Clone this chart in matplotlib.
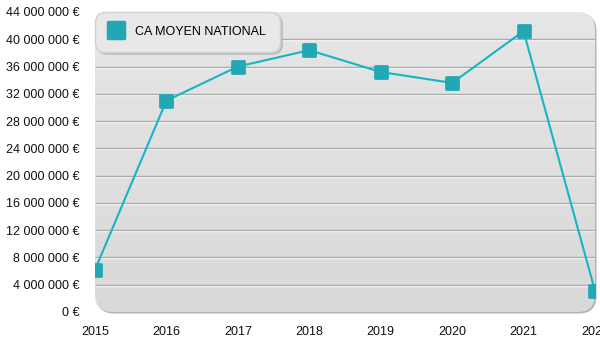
import matplotlib.pyplot as plt
import numpy as np
from matplotlib.patches import FancyBboxPatch
from matplotlib.lines import Line2D
from matplotlib.markers import MarkerStyle
import matplotlib.transforms as mtransforms

plt.rcParams['font.family'] = ['Liberation Sans', 'DejaVu Sans']

# Chiffre d'affaires moyen national par année
years = [2015, 2016, 2017, 2018, 2019, 2020, 2021, 2022]
ca_moyen = [6.2e6, 31.0e6, 36.0e6, 38.4e6, 35.2e6, 33.6e6, 41.2e6, 3.1e6]
series_label = 'CA MOYEN NATIONAL'
y_ticks = list(range(0, 44000001, 4000000))

line_color = '#16b5c6'
marker_face = '#22a8b4'

fig = plt.figure(figsize=(6, 3.5), dpi=100)
ax = fig.add_axes([95 / 600, 38 / 350, 500 / 600, 300 / 350])
ax.patch.set_visible(False)

# fond arrondi avec dégradé gris
shadow = FancyBboxPatch((0.003, -0.005), 1.0, 1.0,
                        boxstyle='round,pad=0,rounding_size=0.035',
                        transform=ax.transAxes, facecolor='#b5b5b5',
                        edgecolor='none', clip_on=False, zorder=0,
                        mutation_aspect=500 / 300)
ax.add_patch(shadow)
bg = FancyBboxPatch((0, 0), 1.0, 1.0,
                    boxstyle='round,pad=0,rounding_size=0.035',
                    transform=ax.transAxes, facecolor='none',
                    edgecolor='none', clip_on=False, zorder=0.5,
                    mutation_aspect=500 / 300)
ax.add_patch(bg)
grad = np.linspace(0, 1, 256).reshape(-1, 1)
img = ax.imshow(grad, extent=[0, 1, 0, 1], transform=ax.transAxes,
                cmap=plt.matplotlib.colors.LinearSegmentedColormap.from_list(
                    'bg', ['#d9d9d9', '#e6e6e6']),
                origin='lower', aspect='auto', zorder=0.6)
img.set_clip_path(bg)
ax.set_xlim(2015, 2022)
ax.set_ylim(0, 44e6)

# lignes de grille en relief
white_off = mtransforms.offset_copy(ax.transData, fig=fig, x=0, y=-1, units='dots')
for v in y_ticks[1:-1]:
    ax.plot([2015, 2022], [v, v], color='#ffffff', lw=1, zorder=1,
            transform=white_off, solid_capstyle='butt')
    ax.plot([2015, 2022], [v, v], color='#ababab', lw=1, zorder=1.1,
            solid_capstyle='butt')

ms = MarkerStyle('s', joinstyle='round')
ax.plot(years, ca_moyen, color=line_color, lw=1.5, zorder=3,
        marker=ms, markersize=8, markerfacecolor=marker_face,
        markeredgecolor=marker_face, markeredgewidth=2)

for s in ax.spines.values():
    s.set_visible(False)

ax.set_yticks(y_ticks)
ax.set_yticklabels([('{:,}'.format(v).replace(',', ' ') + ' €') for v in y_ticks])
ax.set_xticks(years)
ax.set_xticklabels([str(y) for y in years])
ax.tick_params(length=0, labelsize=9, colors='#111111')
ax.tick_params(axis='y', pad=11)
ax.tick_params(axis='x', pad=10)

handle = Line2D([], [], linestyle='none', marker=ms, markersize=12,
                markerfacecolor=marker_face, markeredgecolor=marker_face,
                markeredgewidth=2.5)
leg = ax.legend([handle], [series_label], loc='upper left',
                bbox_to_anchor=(0, 1), borderaxespad=0, fancybox=True,
                shadow={'color': '#bbbbbb', 'alpha': 0.8}, facecolor='#e8e8e8',
                edgecolor='#d0d0d0', framealpha=1, fontsize=9,
                borderpad=1.1, handletextpad=0.9, handlelength=1.2)
leg.get_frame().set_boxstyle('round,pad=0,rounding_size=0.8')
leg.set_zorder(5)

fig.savefig('out.png', dpi=100)
